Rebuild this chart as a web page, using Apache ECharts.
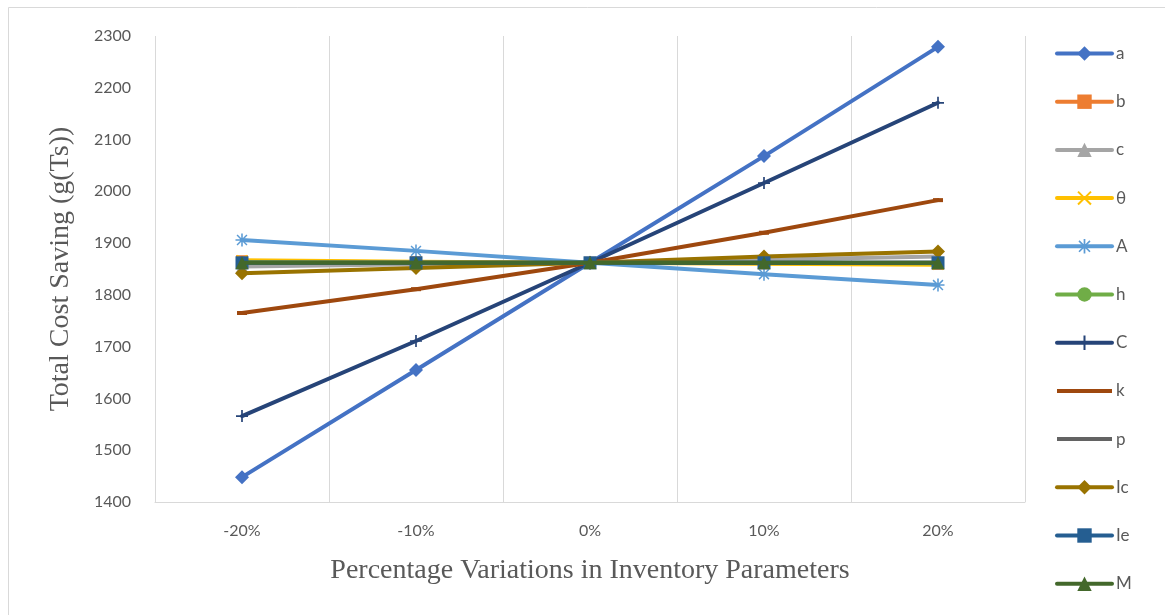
<!DOCTYPE html>
<html>
<head>
<meta charset="utf-8">
<script src="https://cdn.jsdelivr.net/npm/echarts@6/dist/echarts.min.js"></script>
<style>
  html, body { margin: 0; padding: 0; background: #fff; }
  #chart { width: 1165px; height: 615px; }
</style>
</head>
<body>
<div id="chart"></div>
<script>
// Sensitivity of total cost saving to each inventory parameter
const categories = ['-20%', '-10%', '0%', '10%', '20%'];

const a_vals  = [1448, 1655, 1862, 2068, 2279];
const b_vals  = [1865, 1863, 1862, 1861, 1860];
const c_vals  = [1855, 1859, 1862, 1868, 1874];
const th_vals = [1867, 1864, 1862, 1860, 1858];
const A_vals  = [1906, 1885, 1862, 1840, 1819];
const h_vals  = [1863, 1862, 1862, 1862, 1861];
const C_vals  = [1566, 1711, 1862, 2016, 2171];
const k_vals  = [1765, 1811, 1862, 1920, 1983];
const p_vals  = [1862, 1862, 1862, 1862, 1862];
const Ic_vals = [1842, 1852, 1862, 1874, 1884];
const Ie_vals = [1862, 1862, 1862, 1862, 1862];
const M_vals  = [1862, 1862, 1862, 1862, 1862];

const yTicks = { min: 1400, max: 2300, interval: 100 };

// marker shapes that ECharts does not ship
const xMark = 'path://M0,1 L1,0 L5,4 L9,0 L10,1 L6,5 L10,9 L9,10 L5,6 L1,10 L0,9 L4,5 Z';
const starMark = 'path://M4.4,0 H5.6 V10 H4.4 Z M0,4.4 H10 V5.6 H0 Z M0.8,1.6 L1.6,0.8 L9.2,8.4 L8.4,9.2 Z M8.4,0.8 L9.2,1.6 L1.6,9.2 L0.8,8.4 Z';
const plusMark = 'path://M4.3,0 H5.7 V10 H4.3 Z M0,4.3 H10 V5.7 H0 Z';
// plain line icon for series drawn with a dash marker only
const dashIcon = 'path://M0,0 H55 V4 H0 Z';

function mk(name, data, color, symbol, size, order) {
  return {
    name: name,
    type: 'line',
    data: data,
    symbol: symbol,
    symbolSize: size,
    showSymbol: true,
    showAllSymbol: true,
    z: 2 + order * 0.01,
    color: color,
    itemStyle: { color: color },
    lineStyle: { color: color, width: 4, cap: 'round', join: 'round' },
    emphasis: { disabled: true },
    animation: false
  };
}

const series = [
  mk('a',  a_vals,  '#4472C4', 'diamond', 14, 0),
  mk('b',  b_vals,  '#ED7D31', 'rect', 12, 1),
  mk('c',  c_vals,  '#A5A5A5', 'triangle', 12, 2),
  mk('θ',  th_vals, '#FFC000', xMark, 11, 3),
  mk('A',  A_vals,  '#5B9BD5', starMark, 13, 4),
  mk('h',  h_vals,  '#70AD47', 'circle', 11, 5),
  mk('C',  C_vals,  '#264478', plusMark, 12, 6),
  mk('k',  k_vals,  '#9E480E', 'rect', [10, 4], 7),
  mk('p',  p_vals,  '#636363', 'rect', [10, 4], 8),
  mk('Ic', Ic_vals, '#997300', 'diamond', 14, 9),
  mk('Ie', Ie_vals, '#255E91', 'rect', 13, 10),
  mk('M',  M_vals,  '#43682B', 'triangle', 13, 11)
];

const legendData = series.map(s =>
  (s.name === 'k' || s.name === 'p') ? { name: s.name, icon: dashIcon } : { name: s.name }
);

const chart = echarts.init(document.getElementById('chart'), null, { renderer: 'canvas' });
chart.setOption({
  backgroundColor: '#ffffff',
  animation: false,
  graphic: [{
    type: 'rect',
    shape: { x: 8.5, y: 7.5, width: 1300, height: 800 },
    style: { fill: 'none', stroke: '#d9d9d9', lineWidth: 1 },
    silent: true
  }],
  grid: { left: 155, right: 140, top: 36, bottom: 113, containLabel: false },
  legend: {
    orient: 'vertical',
    left: 1050,
    top: 40,
    itemWidth: 55,
    itemHeight: 18,
    itemGap: 31.2,
    lineStyle: { width: 4 },
    textStyle: { fontFamily: 'Lato', fontSize: 17, color: '#595959', padding: [0, 0, 0, -1] },
    data: legendData
  },
  xAxis: {
    type: 'category',
    data: categories,
    boundaryGap: true,
    axisLine: { show: true, lineStyle: { color: '#d9d9d9', width: 1 } },
    axisTick: { show: false },
    axisLabel: { fontFamily: 'Lato', fontSize: 16, color: '#595959', margin: 21 },
    splitLine: { show: true, lineStyle: { color: '#d9d9d9', width: 1 } },
    name: 'Percentage Variations in Inventory Parameters',
    nameLocation: 'middle',
    nameGap: 55,
    nameTextStyle: { fontFamily: 'Liberation Serif', fontSize: 28, color: '#595959' }
  },
  yAxis: {
    type: 'value',
    min: yTicks.min,
    max: yTicks.max,
    interval: yTicks.interval,
    axisLine: { show: false },
    axisTick: { show: false },
    splitLine: { show: false },
    axisLabel: {
      fontFamily: 'Lato', fontSize: 16, color: '#595959', margin: 24,
      formatter: v => String(v)
    },
    name: 'Total Cost Saving (g(Ts))',
    nameLocation: 'middle',
    nameGap: 80,
    nameTextStyle: { fontFamily: 'Liberation Serif', fontSize: 28, color: '#595959' }
  },
  series: series
});
</script>
</body>
</html>
